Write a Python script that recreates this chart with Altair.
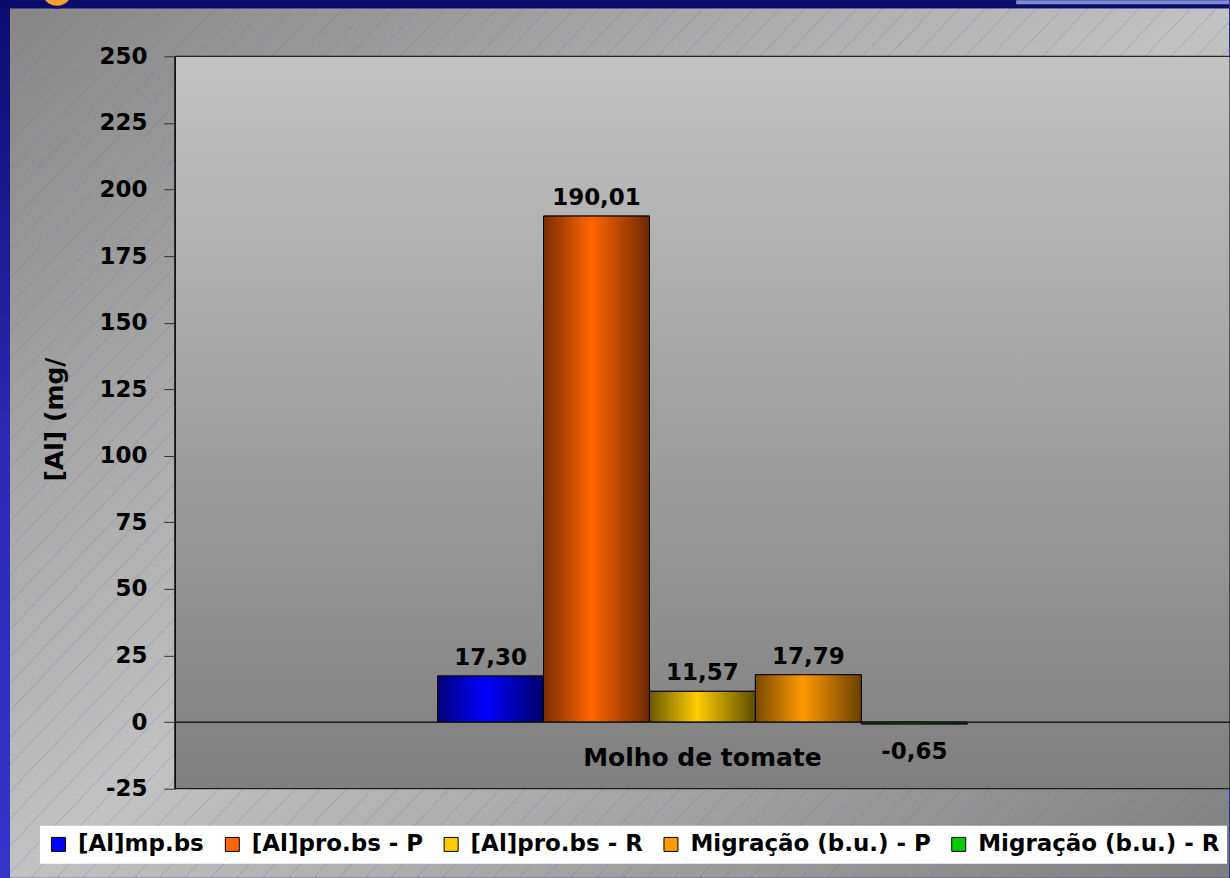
import altair as alt
import pandas as pd

# ---------------- data ----------------
category = ["Molho de tomate"]
series = ["[Al]mp.bs", "[Al]pro.bs - P", "[Al]pro.bs - R",
          "Migração (b.u.) - P", "Migração (b.u.) - R"]
values = [17.30, 190.01, 11.57, 17.79, -0.65]
solid_colors = ["#0000ff", "#ff6600", "#ffcc00", "#ff9900", "#00cc00"]
# (edge-left, highlight, edge-right) for cylinder-like bar shading
bar_shades = [
    ("#00007a", "#0000ff", "#00006a"),
    ("#7a2c00", "#ff6600", "#6e2800"),
    ("#6a5800", "#ffcc00", "#5e4e00"),
    ("#7a4a00", "#ff9900", "#6a4000"),
    ("#006600", "#00dd00", "#005500"),
]
y_ticks = list(range(-25, 251, 25))

df = pd.DataFrame({
    "cat": category * len(series),
    "series": series,
    "value": values,
    "label": [f"{v:.2f}".replace(".", ",") for v in values],
})

# ---------------- layout ----------------
WIN_W, WIN_H = 1230, 878
L, T = 175, 56
W, H = 1056, 733
FONT = "DejaVu Sans"

one = pd.DataFrame({"k": [0]})


def grad(stops, x1=0, y1=0, x2=1, y2=0):
    return alt.LinearGradient(
        gradient="linear", x1=x1, y1=y1, x2=x2, y2=y2,
        stops=[alt.GradientStop(color=c, offset=o) for o, c in stops])


# ---------------- decoration (slide background) ----------------
win_grad = grad([(0, "#0c0c70"), (0.5, "#2a2ab4"), (1, "#3434cc")], 0, 0, 0, 1)
bg = alt.Chart(one).mark_rect(fill=win_grad).encode(
    x=alt.value(-L), x2=alt.value(WIN_W - L), y=alt.value(-T), y2=alt.value(WIN_H - T))

gray = alt.Chart(one).mark_rect(
    fill=grad([(0, "#868686"), (0.5, "#c2c2c2"), (1, "#7e7e7e")], 0, 0, 1, 1)
).encode(x=alt.value(10 - L), x2=alt.value(WIN_W - L),
         y=alt.value(8 - T), y2=alt.value(WIN_H - T))

hatch = alt.Chart(alt.sequence(0, 82, as_="i")).transform_calculate(
    hx=f"-817 + datum.i * 25.7 - {L}",
    hx2=f"-817 + datum.i * 25.7 + 826.5 - {L}",
    hy=f"{WIN_H - T}",
    hy2=f"{8 - T}",
).mark_rule(color="#6c6cc8", strokeWidth=1, opacity=0.35).encode(
    x=alt.X("hx:Q", scale=None, axis=None),
    x2="hx2:Q",
    y=alt.Y("hy:Q", scale=None, axis=None),
    y2="hy2:Q",
)

left_strip = alt.Chart(one).mark_rect(fill=win_grad).encode(
    x=alt.value(-L), x2=alt.value(10 - L), y=alt.value(-T), y2=alt.value(WIN_H - T))
top_strip = alt.Chart(one).mark_rect(fill="#0b0b6e").encode(
    x=alt.value(-L), x2=alt.value(WIN_W - L), y=alt.value(-T), y2=alt.value(8 - T))
top_right = alt.Chart(one).mark_rect(fill="#7b8fd0").encode(
    x=alt.value(1017 - L), x2=alt.value(WIN_W - L), y=alt.value(-T), y2=alt.value(4 - T))
dot = alt.Chart(one).mark_circle(
    size=1134, fill="#ffa030", stroke="#0c0c70", strokeWidth=3, opacity=1
).encode(x=alt.value(57 - L), y=alt.value(-10 - T))

# ---------------- main chart ----------------
plot_bg = alt.Chart(one).mark_rect(
    fill=grad([(0, "#c2c2c2"), (1, "#7f7f7f")], 0, 0, 0, 1), stroke="black", strokeWidth=1
).encode(x=alt.value(0), x2=alt.value(W), y=alt.value(0), y2=alt.value(H))

xenc = alt.X(
    "cat:N",
    scale=alt.Scale(domain=category, paddingInner=0, paddingOuter=0.496),
    axis=alt.Axis(title=None, orient="bottom", offset=-67, ticks=False, tickSize=0,
                  labelPadding=24, labelAngle=0, labelFontSize=25, labelLimit=0,
                  domainColor="#1a1a1a", domainWidth=1.5, zindex=2),
)
xoff = alt.XOffset("series:N", scale=alt.Scale(domain=series, paddingInner=0, paddingOuter=0))
yenc = alt.Y(
    "value:Q",
    scale=alt.Scale(domain=[-25, 250], nice=False),
    axis=alt.Axis(values=y_ticks, labelExpr="'' + datum.value",
                  title="[Al] (mg/", titleX=55 - L, titleY=419 - T,
                  titleAngle=270, titleAlign="center", titleBaseline="middle",
                  titleFontSize=25, tickSize=11, labelPadding=17, grid=False, zindex=2),
)

solid = alt.Chart(df).mark_bar(stroke="black", strokeWidth=1).encode(
    x=xenc, xOffset=xoff, y=yenc,
    color=alt.Color("series:N", scale=alt.Scale(domain=series, range=solid_colors),
                    legend=alt.Legend(title=None, orient="none", legendX=40 - L, legendY=826 - T,
                                      direction="horizontal", zindex=2)),
)

shaded = []
for s, (a, b, c) in zip(series, bar_shades):
    shaded.append(
        alt.Chart(df).transform_filter(alt.datum.series == s).mark_bar(
            fill=grad([(0, a), (0.45, b), (1, c)]), stroke="black", strokeWidth=1
        ).encode(x=xenc, xOffset=xoff, y=yenc)
    )

txt_style = dict(font=FONT, fontWeight="bold", fontSize=23, color="black",
                 baseline="alphabetic", align="center")
pos_txt = alt.Chart(df).transform_filter("datum.value >= 0").mark_text(dy=-11, **txt_style).encode(
    x=xenc, xOffset=xoff, y=yenc, text="label:N")
neg_txt = alt.Chart(df).transform_filter("datum.value < 0").mark_text(dy=35, **txt_style).encode(
    x=xenc, xOffset=xoff, y=yenc, text="label:N")

chart = alt.layer(
    bg, gray, hatch, left_strip, top_strip, top_right, dot,
    plot_bg, solid, *shaded, pos_txt, neg_txt,
).properties(
    width=W, height=H,
    autosize=alt.AutoSizeParams(type="none"),
    padding={"left": L, "top": T, "right": 0, "bottom": WIN_H - T - H},
    background="#2a2ab4",
).configure_view(
    stroke=None
).configure_axis(
    labelFont=FONT, labelFontWeight="bold", labelFontSize=23, labelColor="black",
    titleFont=FONT, titleFontWeight="bold", titleColor="black",
    domainColor="black", tickColor="#333333", grid=False,
).configure_legend(
    fillColor="white", padding=7, labelFont=FONT, labelFontWeight="bold",
    labelFontSize=23, labelColor="black", labelLimit=0, symbolType="square",
    symbolSize=196, symbolStrokeColor="black", symbolStrokeWidth=1,
    labelOffset=8, columnPadding=16, symbolOpacity=1,
)

chart.save("out.html", embed_options={"renderer": "svg", "actions": False})
